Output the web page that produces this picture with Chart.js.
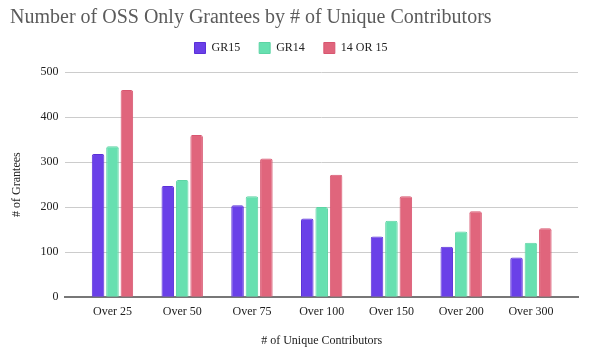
<!DOCTYPE html>
<html><head><meta charset="utf-8">
<script src="https://cdn.jsdelivr.net/npm/chart.js@4"></script>
<style>html,body{margin:0;padding:0;background:#fff}#wrap{width:589px;height:355px}</style>
</head><body><div id="wrap"><canvas id="c" width="589" height="355"></canvas></div>
<script>
const categories = ["Over 25","Over 50","Over 75","Over 100","Over 150","Over 200","Over 300"];
const gr15 = [318, 247, 204, 175, 135, 112, 88];
const gr14 = [335, 260, 224, 200, 170, 146, 121];
const gr14or15 = [460, 360, 308, 272, 224, 191, 153];
const seriesNames = ["GR15","GR14","14 OR 15"];
const yTicks = [0,100,200,300,400,500];

const font = "'Liberation Serif', 'Times New Roman', serif";
const mk = (label, data, bg, bd) => ({label, data, backgroundColor: bg, borderColor: bd, borderWidth: 1,
  borderRadius: {topLeft: 2, topRight: 2}, borderSkipped: 'bottom', barPercentage: 0.87, categoryPercentage: 0.62});

const layoutTweak = {
  id: 'layoutTweak',
  beforeInit(chart) {
    const lg = chart.legend;
    if (!lg) return;
    const fit = lg.fit;
    lg.fit = function() { fit.call(this); this.height -= 3; };
  },
  afterLayout(chart) {
    const lg = chart.legend;
    if (lg) { lg.left -= 3; lg.right -= 3; lg.top -= 11; lg.bottom -= 11; }
    const x = chart.scales.x;
    if (x) { x._startValue -= 0.175; x._valueRange += 0.35; }
  }
};

new Chart(document.getElementById('c'), {
  type: 'bar',
  data: { labels: categories, datasets: [
    mk(seriesNames[0], gr15, '#6a40e8', '#5a30d8'),
    mk(seriesNames[1], gr14, '#67e0b0', '#5dd4a4'),
    mk(seriesNames[2], gr14or15, '#e0657c', '#d85670')
  ]},
  plugins: [layoutTweak],
  options: {
    responsive: false, animation: false, devicePixelRatio: 1,
    layout: { padding: { left: 10, right: 11, top: 4, bottom: 7 } },
    plugins: {
      title: { display: true, text: 'Number of OSS Only Grantees by # of Unique Contributors', align: 'start',
        color: '#5b5b5b', font: { family: font, size: 20, weight: 'normal' }, padding: { top: 2, bottom: 4 } },
      legend: { display: true, labels: { boxWidth: 11, boxHeight: 11, color: '#222', font: { family: font, size: 12 }, padding: 19 } },
      tooltip: { enabled: false }
    },
    scales: {
      x: {
        grid: { display: false, drawTicks: false },
        border: { display: true, color: '#777', width: 2 },
        ticks: { color: '#222', font: { family: font, size: 12 }, padding: 7 },
        title: { display: true, text: '# of Unique Contributors', color: '#222', font: { family: font, size: 12 }, padding: { top: 8, bottom: 0 } }
      },
      y: {
        min: 0, max: 500,
        afterBuildTicks: (s) => { s.ticks = yTicks.map(v => ({value: v})); },
        grid: { color: '#cccccc', lineWidth: 1, drawTicks: false },
        border: { display: false },
        ticks: { color: '#222', font: { family: font, size: 12 }, padding: 7 },
        title: { display: true, text: '# of Grantees', color: '#222', font: { family: font, size: 12 }, padding: { top: 0, bottom: 9 } }
      }
    }
  }
});
</script></body></html>
